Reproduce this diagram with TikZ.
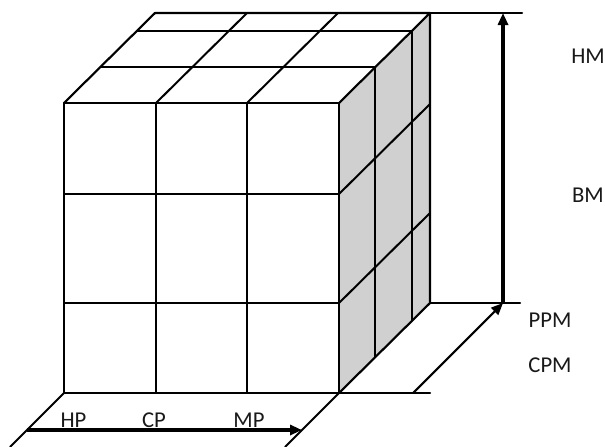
\documentclass[tikz,border=0pt]{standalone}
\usepackage{fontspec}
\setmainfont{Carlito}
\usetikzlibrary{arrows.meta}
\definecolor{sidegray}{RGB}{208,208,208}
\tikzset{
  edge/.style={line width=1.6pt, line cap=round, line join=round},
  thinedge/.style={line width=1.5pt},
  axisarrow/.style={line width=2.4pt, -{Triangle[length=9pt,width=7.5pt]}},
  deptharrow/.style={line width=1.6pt, -{Triangle[length=9pt,width=7.5pt]}},
  lbl/.style={font=\fontsize{17}{20}\selectfont, inner sep=0pt, text=black!90}
}
\begin{document}
\begin{tikzpicture}[x=0.75pt,y=-0.75pt]
\useasboundingbox (0,0) rectangle (605,446);
% corners
\coordinate (FTL) at (64,103);
\coordinate (FTR) at (339,103);
\coordinate (FBL) at (64,393);
\coordinate (FBR) at (339,393);
\coordinate (BTL) at (155,13);
\coordinate (BTR) at (430,13);
\coordinate (BBR) at (430,303);
% right face fill
\fill[sidegray] (FTR) -- (BTR) -- (BBR) -- (FBR) -- cycle;
% front face
\draw[edge] (FTL) rectangle (FBR);
\draw[thinedge] (156,103) -- (156,393);
\draw[thinedge] (247,103) -- (247,393);
\draw[thinedge] (64,194) -- (339,194);
\draw[thinedge] (64,303) -- (339,303);
% top face
\draw[edge] (FTL) -- (BTL) -- (BTR) -- (FTR);
\draw[thinedge] (100.4,67) -- (375.4,67);
\draw[thinedge] (136.8,31) -- (411.8,31);
\draw[thinedge] (156,103) -- (247,13);
\draw[thinedge] (247,103) -- (338,13);
% right face
\draw[edge] (BTR) -- (BBR) -- (FBR);
\draw[thinedge] (375.4,67) -- (375.4,357);
\draw[thinedge] (411.8,31) -- (411.8,321);
\draw[thinedge] (339,194) -- (430,104);
\draw[thinedge] (339,303) -- (430,213);
% extension lines
\coordinate (TopEnd) at (522,13);
\coordinate (MidEnd) at (520,303);
\coordinate (BotEnd) at (430,393);
\draw[edge] (BTR) -- (TopEnd);
\draw[edge] (BBR) -- (MidEnd);
\draw[edge] (FBR) -- (BotEnd);
% vertical arrow
\coordinate (VA0) at (503,303);
\coordinate (VA1) at (503,13);
\draw[axisarrow] (VA0) -- (VA1);
% depth arrow
\coordinate (DA0) at (413,393);
\coordinate (DA1) at (503,303);
\draw[deptharrow] (DA0) -- (DA1);
% floor lines
\coordinate (FL1) at (10,447);
\coordinate (FL2) at (285,447);
\draw[thinedge] (FBL) -- (FL1);
\draw[thinedge] (FBR) -- (FL2);
% horizontal arrow
\coordinate (HA0) at (27,430);
\coordinate (HA1) at (302,430);
\draw[axisarrow] (HA0) -- (HA1);
% labels
\node[lbl] (hm) at (588,56) {HM};
\node[lbl] (bm) at (588,195) {BM};
\node[lbl] (ppm) at (550,320) {PPM};
\node[lbl] (cpm) at (550,365) {CPM};
\node[lbl] (hp) at (73.5,420) {HP};
\node[lbl] (cp) at (154,420) {CP};
\node[lbl] (mp) at (249,420) {MP};
\end{tikzpicture}
\end{document}
